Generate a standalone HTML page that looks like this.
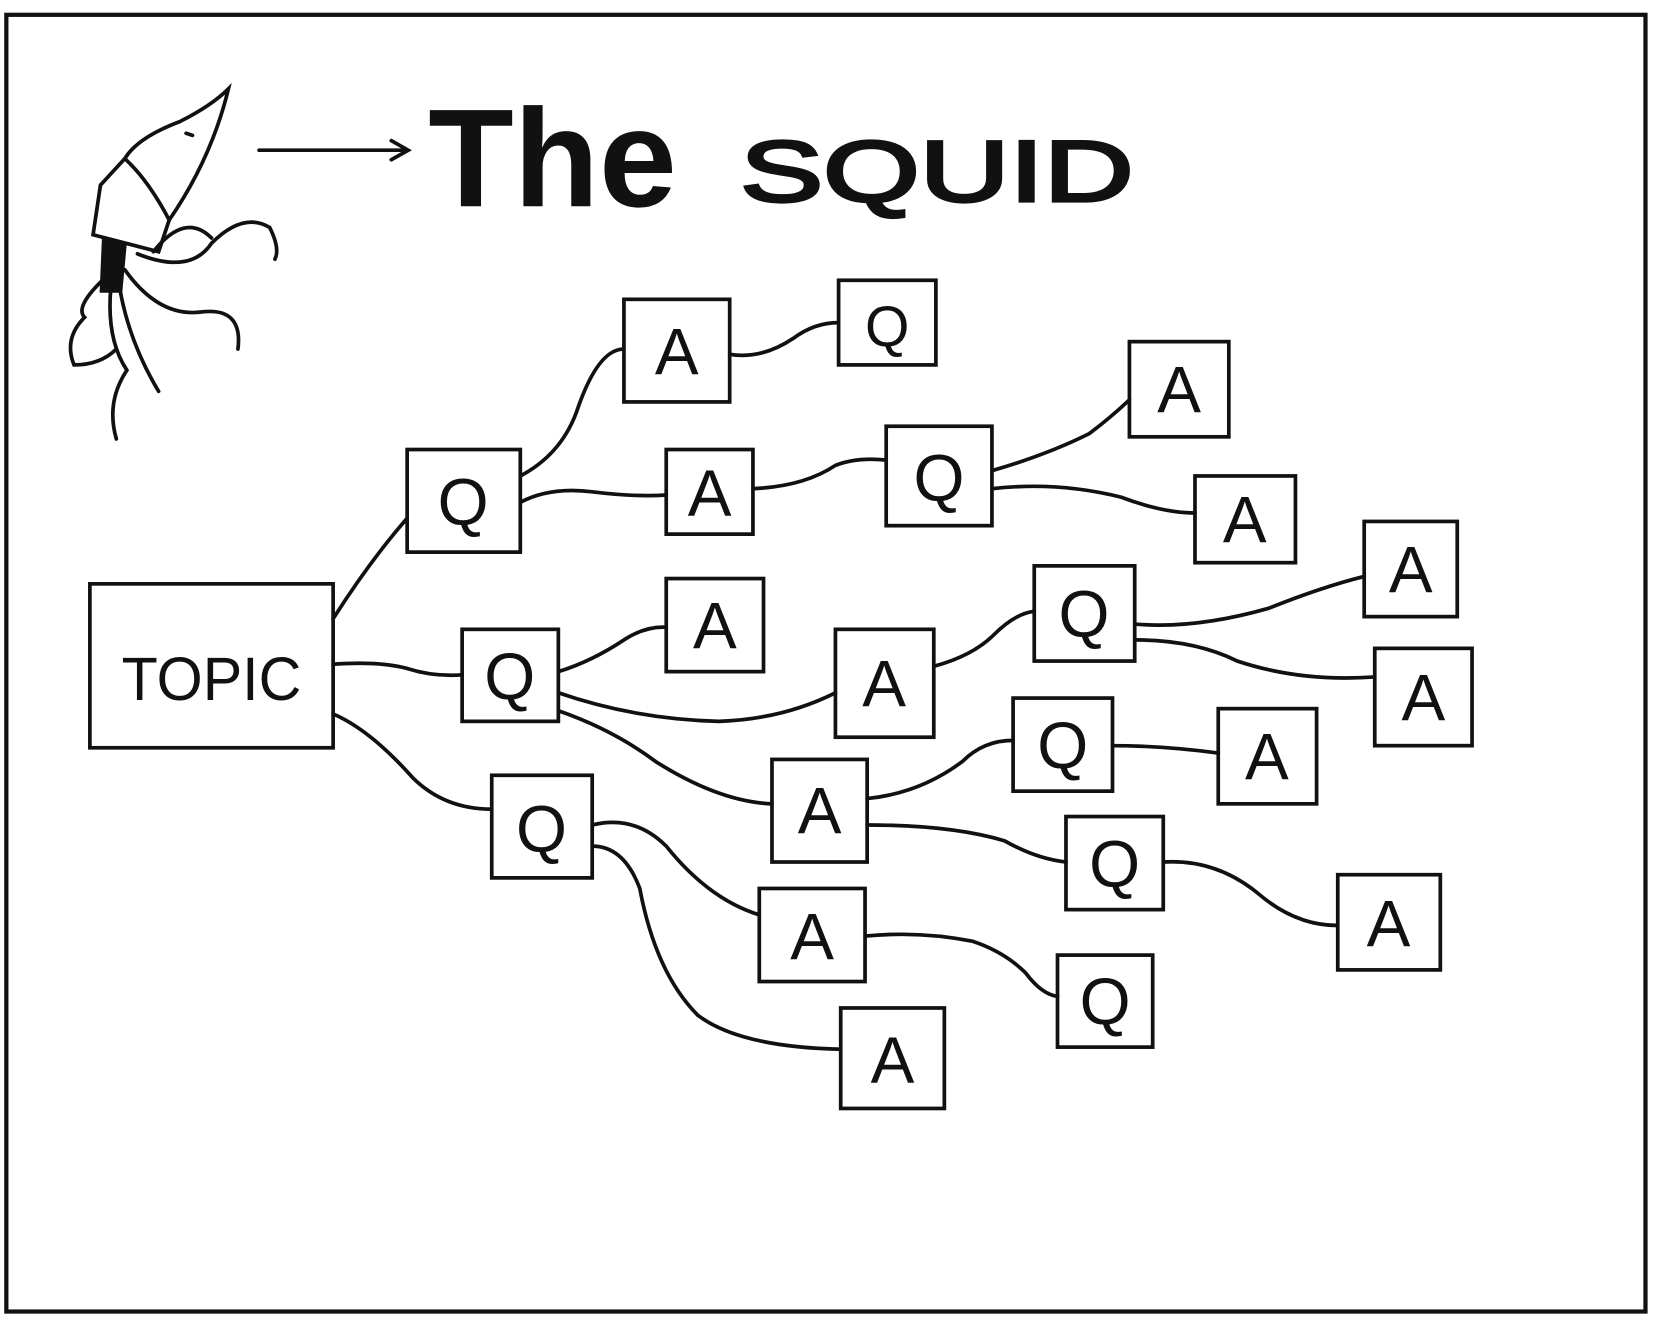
<!DOCTYPE html>
<html><head><meta charset="utf-8"><style>
html,body{margin:0;padding:0;background:#fff;}
svg{display:block;}
text{font-family:"Liberation Sans",sans-serif;fill:#111;}
</style></head><body>
<svg width="1655" height="1320" viewBox="0 0 1565 1248" preserveAspectRatio="none" xmlns="http://www.w3.org/2000/svg">
<rect x="0" y="0" width="1565" height="1248" fill="#fff"/>
<rect x="6" y="14" width="1550" height="1226" fill="none" stroke="#111" stroke-width="4"/>
<g fill="none" stroke="#111" stroke-width="3.5" stroke-linecap="round">
<!-- squid -->
<path d="M216 84 Q200 100 170 115 Q130 130 118 150 L95 175 L88 222 L150 238 L160 208 Q200 150 216 84 Z"/>
<path d="M118 150 Q140 170 160 208"/>
<path d="M176 126 l6 2"/>
<path d="M98 228 L96 275 L114 275 L118 232 Z" fill="#111"/>
<path d="M100 262 Q70 290 80 300 Q60 320 70 345 Q95 345 110 330"/>
<path d="M105 270 Q100 320 120 350 Q100 380 110 415"/>
<path d="M112 265 Q120 320 150 370"/>
<path d="M118 255 Q150 300 190 295 Q230 290 225 330"/>
<path d="M130 240 Q180 260 200 230 Q230 200 255 215 Q265 235 260 245"/>
<path d="M145 238 Q175 200 200 225"/>
<!-- arrow -->
<path d="M245 142 L385 142 M370 133 L386 142 L370 151"/>
<!-- edges -->
<path d="M315 585 Q350 530 385 490"/>
<path d="M315 628 Q360 625 385 632 Q410 640 437 638"/>
<path d="M315 675 Q350 690 390 735 Q420 765 465 765"/>
<path d="M492 450 Q530 430 545 390 Q565 330 590 330"/>
<path d="M492 475 Q520 460 560 465 Q600 470 630 468"/>
<path d="M690 335 Q720 340 750 320 Q770 305 793 305"/>
<path d="M712 462 Q760 460 790 440 Q810 432 838 435"/>
<path d="M938 445 Q990 430 1030 410 Q1050 395 1068 378"/>
<path d="M938 462 Q1000 455 1060 470 Q1100 485 1130 485"/>
<path d="M528 635 Q560 625 590 605 Q610 592 630 593"/>
<path d="M528 655 Q600 680 680 682 Q740 680 790 655"/>
<path d="M528 672 Q580 690 620 720 Q680 758 730 760"/>
<path d="M883 630 Q920 620 940 600 Q960 580 978 578"/>
<path d="M1073 590 Q1130 595 1200 575 Q1250 555 1290 545"/>
<path d="M1073 605 Q1130 605 1170 625 Q1230 645 1300 640"/>
<path d="M820 755 Q870 750 910 720 Q930 700 958 700"/>
<path d="M1052 705 Q1100 705 1152 712"/>
<path d="M820 780 Q900 780 950 795 Q980 812 1008 815"/>
<path d="M1100 815 Q1150 812 1190 845 Q1225 875 1265 875"/>
<path d="M560 780 Q600 770 630 800 Q670 850 718 865"/>
<path d="M560 800 Q590 800 605 840 Q620 920 660 960 Q700 990 795 992"/>
<path d="M818 885 Q870 880 920 890 Q950 900 970 920 Q985 940 1000 942"/>
<!-- boxes -->
<rect x="85" y="552" width="230" height="155"/>
<rect x="385" y="425" width="107" height="97"/>
<rect x="590" y="283" width="100" height="97"/>
<rect x="793" y="265" width="92" height="80"/>
<rect x="630" y="425" width="82" height="80"/>
<rect x="838" y="403" width="100" height="94"/>
<rect x="1068" y="323" width="94" height="90"/>
<rect x="1130" y="450" width="95" height="82"/>
<rect x="437" y="595" width="91" height="87"/>
<rect x="630" y="547" width="92" height="88"/>
<rect x="790" y="595" width="93" height="102"/>
<rect x="978" y="535" width="95" height="90"/>
<rect x="1290" y="493" width="88" height="90"/>
<rect x="1300" y="613" width="92" height="92"/>
<rect x="958" y="660" width="94" height="88"/>
<rect x="1152" y="670" width="93" height="90"/>
<rect x="730" y="718" width="90" height="97"/>
<rect x="1008" y="772" width="92" height="88"/>
<rect x="1265" y="827" width="97" height="90"/>
<rect x="465" y="733" width="95" height="97"/>
<rect x="718" y="840" width="100" height="88"/>
<rect x="1000" y="903" width="90" height="87"/>
<rect x="795" y="953" width="98" height="95"/>
</g>
<g font-size="62" text-anchor="middle">
<text x="200" y="662" font-size="58" textLength="170" lengthAdjust="spacingAndGlyphs">TOPIC</text>
<text x="438" y="496">Q</text>
<text x="640" y="354">A</text>
<text x="839" y="327" font-size="54">Q</text>
<text x="671" y="488">A</text>
<text x="888" y="473">Q</text>
<text x="1115" y="390">A</text>
<text x="1177" y="513">A</text>
<text x="482" y="661">Q</text>
<text x="676" y="613">A</text>
<text x="836" y="668">A</text>
<text x="1025" y="602">Q</text>
<text x="1334" y="560">A</text>
<text x="1346" y="681">A</text>
<text x="1005" y="726">Q</text>
<text x="1198" y="737">A</text>
<text x="775" y="788">A</text>
<text x="1054" y="838">Q</text>
<text x="1313" y="895">A</text>
<text x="512" y="805">Q</text>
<text x="768" y="907">A</text>
<text x="1045" y="968">Q</text>
<text x="844" y="1024">A</text>
</g>
<text x="405" y="195" font-size="132" font-weight="bold" textLength="235" lengthAdjust="spacingAndGlyphs">The</text>
<text x="700" y="190" font-size="82" stroke="#111" stroke-width="3" textLength="372" lengthAdjust="spacingAndGlyphs">SQUID</text>
</svg>
</body></html>
